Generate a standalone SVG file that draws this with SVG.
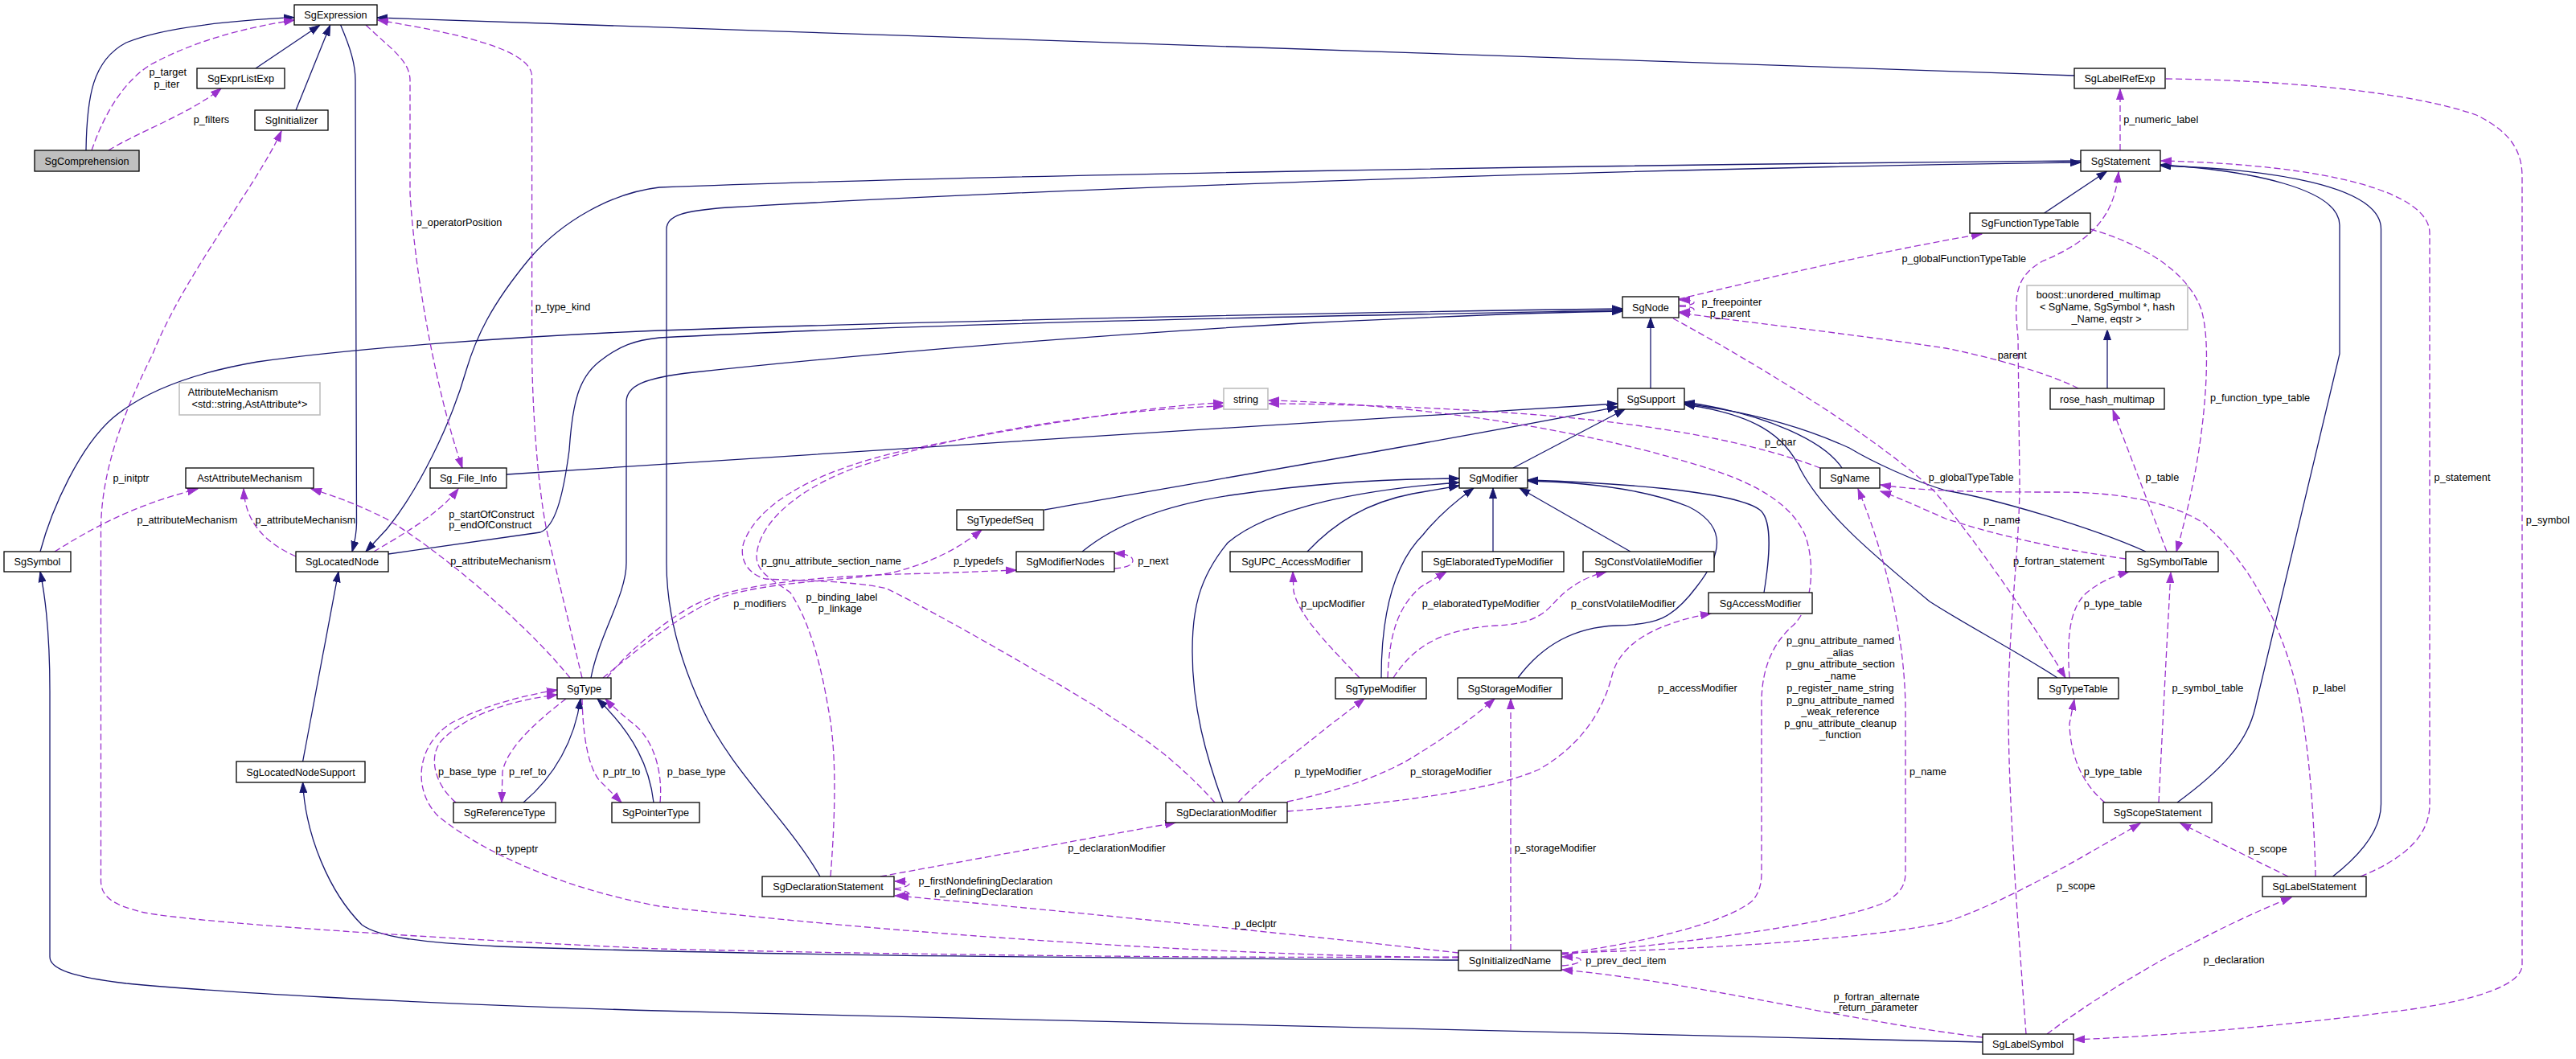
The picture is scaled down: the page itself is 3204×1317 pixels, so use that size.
<svg xmlns="http://www.w3.org/2000/svg" width="3204" height="1317" viewBox="0 0 3204 1317">
<style>
text{font-family:"Liberation Sans",Arial,Helvetica,sans-serif;font-size:12.7px;fill:#000}
.n text{text-anchor:middle}
.n rect{fill:#fff;stroke:#000;stroke-width:1.3}
.n rect.g{stroke:#bfbfbf;stroke-width:1.6}
.n rect.sel{fill:#bfbfbf}
.inh{fill:none;stroke:#191970;stroke-width:1.3;marker-end:url(#ai)}
.use{fill:none;stroke:#9a32cd;stroke-width:1.3;stroke-dasharray:8,4;marker-end:url(#au)}
.lbl text{text-anchor:middle}
</style>
<defs>
<marker id="ai" markerWidth="14" markerHeight="10" refX="13" refY="5" orient="auto" markerUnits="userSpaceOnUse"><path d="M0,0.5 L13,5 L0,9.5 z" fill="#191970" stroke="#191970"/></marker>
<marker id="au" markerWidth="14" markerHeight="10" refX="13" refY="5" orient="auto" markerUnits="userSpaceOnUse"><path d="M0,0.5 L13,5 L0,9.5 z" fill="#9a32cd" stroke="#9a32cd"/></marker>
</defs>
<rect width="3204" height="1317" fill="#fff"/>
<g id="connectors">
<!-- inheritance -->
<path class="inh" d="M107,187 C108,120 115,75 157,53 C200,35 280,26 366,21.7"/>
<path class="inh" d="M318,85 L397.5,31.5"/>
<path class="inh" d="M368,137 L410.6,31.5"/>
<path class="inh" d="M2580,94 C1900,70 900,37 469,22"/>
<path class="inh" d="M423.6,31 C436,60 442,80 442,100 L443.5,650 C443.5,665 441,675 438,686"/>
<path class="inh" d="M2588,200 C2000,205 1200,218 820,233 C760,240 700,275 660,320 C610,380 592,420 580,460 C560,530 520,610 481,658 L455,686"/>
<path class="inh" d="M1020,1090 C980,1020 910,960 873,880 C845,820 829,760 829,700 L829,285 C829,268 850,262 905,258 C1300,235 2000,210 2588,202"/>
<path class="inh" d="M2542.6,265 L2620.5,213"/>
<path class="inh" d="M2708,998 C2760,960 2795,925 2805,880 L2910,440 L2910,280 C2910,235 2800,212 2687,205"/>
<path class="inh" d="M2901.5,1090 C2940,1060 2961.5,1030 2961.5,1000 L2961.5,285 C2961.5,230 2820,210 2687,206"/>
<path class="inh" d="M376.6,947 L421,711"/>
<path class="inh" d="M1814,1194 C1500,1192 1000,1190 620,1177 C520,1172 470,1165 450,1150 C410,1110 380,1040 376.6,973"/>
<path class="inh" d="M2466,1296 C2200,1292 1500,1275 820,1257 C500,1248 250,1232 157,1223 C90,1215 62,1205 62,1190 L62,860 C62,800 58,750 50,711"/>
<path class="inh" d="M50,686 C65,630 100,555 140,520 C185,482 250,462 320,450 C450,432 650,418 820,411 C1200,398 1700,388 2018,384"/>
<path class="inh" d="M483,689 L672,662 C690,655 700,620 708,560 C712,500 720,470 745,450 C770,430 790,423 820,420 C1200,400 1700,392 2018,386"/>
<path class="inh" d="M735,843 C745,790 779,740 779,700 L779,500 C779,480 800,470 863,463 C1000,448 1300,420 1620,402 C1800,393 1950,388 2018,387"/>
<path class="inh" d="M2053,483 L2053,395"/>
<path class="inh" d="M2621,483 L2621,410"/>
<path class="inh" d="M2291,582 C2270,550 2200,515 2095,500"/>
<path class="inh" d="M2669,686 C2600,655 2480,620 2420,610 C2380,598 2330,575 2300,557 C2230,525 2160,510 2095,502"/>
<path class="inh" d="M2559,843 C2500,805 2450,780 2400,748 C2330,690 2270,640 2240,585 C2220,540 2180,515 2095,503"/>
<path class="inh" d="M1299,634 C1500,598 1800,548 2012,506"/>
<path class="inh" d="M1346,686 C1390,650 1450,628 1530,616 C1620,603 1700,596 1815,595"/>
<path class="inh" d="M1882,582 L2021,509"/>
<path class="inh" d="M630,590 C1000,565 1600,527 2012,502"/>
<path class="inh" d="M1626,686 C1660,650 1700,625 1757,614 L1815,604"/>
<path class="inh" d="M1857,686 L1857,607"/>
<path class="inh" d="M2028,686 L1890,607"/>
<path class="inh" d="M2194,737 C2200,700 2206,650 2190,635 C2160,610 2000,600 1900,597"/>
<path class="inh" d="M1718,843 C1718,760 1735,700 1770,665 C1790,640 1815,620 1833,607"/>
<path class="inh" d="M1888,843 C1920,800 1960,780 2010,778 C2060,777 2080,770 2110,730 C2150,680 2140,650 2100,630 C2050,610 1980,600 1900,598"/>
<path class="inh" d="M1521,998 C1500,940 1483,880 1483,810 C1483,760 1490,720 1527,675 C1580,630 1700,608 1815,600"/>
<path class="inh" d="M813,998 C808,955 790,915 743,869"/>
<path class="inh" d="M651,998 C690,965 715,920 722,869"/>
<!-- usage -->
<path class="use" d="M114,187 C130,140 155,100 188,80 C240,52 300,35 366,25"/>
<path class="use" d="M135,187 C170,165 235,142 275,110"/>
<path class="use" d="M1814,1190 C1500,1192 1100,1187 820,1180 C550,1168 250,1148 180,1135 C135,1125 125.5,1112 125.5,1095 L125.5,660 C125.5,590 150,520 190,440 C230,340 320,230 350,163"/>
<path class="use" d="M465,686 C500,665 545,640 570,608"/>
<path class="use" d="M455,31 C485,60 510,75 510,100 L510,240 C515,330 540,480 575,582"/>
<path class="use" d="M724,843 L680,660 C668,600 661.6,500 661.6,430 L661.6,95 C661.6,60 560,40 470,25"/>
<path class="use" d="M68,686 C110,660 160,630 246,608"/>
<path class="use" d="M368,692 C330,675 305,650 303,608"/>
<path class="use" d="M709,843 C650,770 540,680 480,645 C440,625 410,615 387,608"/>
<path class="use" d="M1511,998 C1450,930 1400,905 1365,880 C1300,840 1170,765 1103,732 C1060,722 990,722 952,720 C925,712 920,690 925,675 C945,620 1030,580 1140,557 C1300,525 1450,503 1522,501"/>
<path class="use" d="M1033,1090 C1040,1000 1040,930 1030,880 C1020,820 1005,770 983,737 C960,720 940,712 941,690 C945,650 990,610 1060,583 C1200,535 1400,508 1522,505"/>
<path class="use" d="M750,843 C790,810 850,760 900,742 C960,722 1060,722 1110,712 C1160,700 1195,680 1221,659"/>
<path class="use" d="M755,843 C780,810 840,760 880,745 C940,722 1050,715 1160,713 L1264,709"/>
<path class="use" d="M1386,707 C1400,706 1409,703 1409,697 C1409,692 1402,689 1386,688"/>
<path class="use" d="M1691,843 C1650,800 1615,765 1609,735 L1608,711"/>
<path class="use" d="M1726,843 C1728,790 1738,755 1767,730 L1799,711"/>
<path class="use" d="M1733,843 C1760,800 1800,782 1860,778 C1900,776 1915,768 1930,753 C1950,730 1970,718 1998,711"/>
<path class="use" d="M1601,1009 C1720,1000 1850,985 1914,957 C1970,925 1995,880 2005,840 C2015,800 2060,775 2128,763"/>
<path class="use" d="M1540,998 C1570,965 1620,930 1650,905 L1697,869"/>
<path class="use" d="M1601,997 C1660,985 1720,965 1760,940 C1800,915 1830,895 1859,869"/>
<path class="use" d="M1879,1182 L1879,869"/>
<path class="use" d="M1095,1090 L1462,1023"/>
<path class="use" d="M1113,1105 C1125,1104 1131,1101 1131,1099 C1131,1097 1125,1096 1113,1096"/>
<path class="use" d="M1113,1106 C1125,1107 1131,1110 1131,1112 C1131,1113 1125,1114 1113,1114"/>
<path class="use" d="M1814,1185 C1700,1172 1500,1150 1117,1114"/>
<path class="use" d="M1814,1191 C1500,1188 1100,1160 820,1127 C700,1105 600,1060 545,1015 C515,985 515,930 560,900 C600,878 650,865 693,858"/>
<path class="use" d="M567,998 C540,975 532,940 550,920 C580,890 630,872 693,864"/>
<path class="use" d="M704,869 C670,895 630,930 625,960 L624,998"/>
<path class="use" d="M724,869 C725,910 730,950 745,970 L773,998"/>
<path class="use" d="M821,998 C825,955 810,915 785,898 C770,885 760,877 753,869"/>
<path class="use" d="M1943,1201 C1958,1200 1966,1197 1966,1194 C1966,1191 1958,1190 1943,1190"/>
<path class="use" d="M1943,1186 C2060,1170 2150,1145 2180,1120 C2188,1110 2191,1100 2191,1085 L2191,870 C2192,830 2205,800 2230,778 C2255,755 2258,700 2245,665 C2225,620 2170,595 2100,575 C1950,530 1750,502 1578,498"/>
<path class="use" d="M2264,582 C2180,550 2060,527 1900,515 C1780,506 1650,502 1578,502"/>
<path class="use" d="M1943,1187 C2100,1172 2280,1150 2345,1122 C2365,1110 2370,1100 2370,1085 L2370,880 C2369,790 2345,690 2311,608"/>
<path class="use" d="M2644,695 C2560,683 2480,665 2420,645 C2390,632 2360,618 2339,611"/>
<path class="use" d="M2880,1090 C2878,1000 2870,920 2860,870 C2840,780 2800,700 2740,650 C2700,625 2640,612 2560,612 C2480,612 2400,612 2339,603"/>
<path class="use" d="M2081,396 C2180,450 2330,540 2405,610 C2440,650 2520,760 2569,843"/>
<path class="use" d="M2585,483 C2550,465 2480,445 2420,433 C2300,415 2150,398 2089,389"/>
<path class="use" d="M2088,372 C2200,345 2350,310 2465,291"/>
<path class="use" d="M2089,380 C2101,380 2107,378 2107,376 C2107,374 2101,373 2089,373"/>
<path class="use" d="M2089,381 C2101,381 2107,383 2107,385 C2107,387 2101,388 2089,388"/>
<path class="use" d="M2695,686 L2628,510"/>
<path class="use" d="M2600,285 C2660,302 2720,335 2738,385 C2745,410 2745,440 2744,470 C2740,560 2720,640 2707,686"/>
<path class="use" d="M2936,1090 C2990,1068 3022,1040 3022,1000 L3022,290 C3022,240 2900,205 2688,200"/>
<path class="use" d="M2694,98 C2850,100 3000,115 3080,143 C3125,165 3137,190 3137,220 L3137,1200 C3137,1220 3100,1240 3000,1255 C2850,1275 2700,1288 2580,1293"/>
<path class="use" d="M2637,187 L2637,111"/>
<path class="use" d="M2520,1286 C2510,1150 2498,1000 2498,880 C2498,780 2512,680 2512,600 L2510,420 C2505,370 2505,345 2540,325 C2600,300 2630,270 2635,214"/>
<path class="use" d="M2574,843 C2570,790 2575,752 2598,735 C2615,722 2630,716 2648,711"/>
<path class="use" d="M2685,998 C2690,900 2695,800 2700,712"/>
<path class="use" d="M2618,998 C2590,975 2575,940 2574,900 L2580,870"/>
<path class="use" d="M2846,1090 L2712,1024"/>
<path class="use" d="M1943,1185 C2150,1180 2330,1166 2420,1147 C2500,1120 2600,1060 2662,1024"/>
<path class="use" d="M2546,1286 C2620,1230 2740,1160 2850,1116"/>
<path class="use" d="M2466,1290 C2300,1270 2100,1220 1943,1206"/>
<g class="lbl">
<text x="208.7" y="94">p_target</text><text x="207.3" y="108.5">p_iter</text>
<text x="263" y="153">p_filters</text>
<text x="571" y="281">p_operatorPosition</text>
<text x="700" y="386">p_type_kind</text>
<text x="163" y="598.5">p_initptr</text>
<text x="232.8" y="650.5">p_attributeMechanism</text>
<text x="380" y="650.5">p_attributeMechanism</text>
<text x="611.4" y="643.5">p_startOfConstruct</text><text x="609.8" y="657">p_endOfConstruct</text>
<text x="622.6" y="702">p_attributeMechanism</text>
<text x="1033.8" y="702">p_gnu_attribute_section_name</text>
<text x="1217" y="702">p_typedefs</text>
<text x="945" y="754.5">p_modifiers</text>
<text x="1047" y="747">p_binding_label</text><text x="1045" y="761">p_linkage</text>
<text x="1434.4" y="702">p_next</text>
<text x="2214.5" y="553.5">p_char</text>
<text x="1657.8" y="754.5">p_upcModifier</text>
<text x="1842" y="754.5">p_elaboratedTypeModifier</text>
<text x="2019" y="754.5">p_constVolatileModifier</text>
<text x="2111.4" y="859.5">p_accessModifier</text>
<text x="2289" y="801">p_gnu_attribute_named</text>
<text x="2289" y="815.5">_alias</text>
<text x="2289" y="830">p_gnu_attribute_section</text>
<text x="2289" y="844.5">_name</text>
<text x="2289" y="859.5">p_register_name_string</text>
<text x="2289" y="874.5">p_gnu_attribute_named</text>
<text x="2289" y="889">_weak_reference</text>
<text x="2289" y="903.5">p_gnu_attribute_cleanup</text>
<text x="2289" y="918">_function</text>
<text x="2502.7" y="446">parent</text>
<text x="2811" y="499">p_function_type_table</text>
<text x="2689.4" y="598">p_table</text>
<text x="3062.5" y="598">p_statement</text>
<text x="2451.6" y="598">p_globalTypeTable</text>
<text x="2490" y="650.5">p_name</text>
<text x="3169" y="650.5">p_symbol</text>
<text x="2560.8" y="702">p_fortran_statement</text>
<text x="2628" y="754.5">p_type_table</text>
<text x="2746" y="859.5">p_symbol_table</text>
<text x="2897" y="859.5">p_label</text>
<text x="2687.7" y="153">p_numeric_label</text>
<text x="2442.8" y="326">p_globalFunctionTypeTable</text>
<text x="2153.8" y="379.5">p_freepointer</text><text x="2151.8" y="393.5">p_parent</text>
<text x="581.3" y="963.5">p_base_type</text>
<text x="656.4" y="963.5">p_ref_to</text>
<text x="773" y="963.5">p_ptr_to</text>
<text x="642.7" y="1059.5">p_typeptr</text>
<text x="866.2" y="963.5">p_base_type</text>
<text x="1389" y="1059">p_declarationModifier</text>
<text x="1225.8" y="1099.5">p_firstNondefiningDeclaration</text><text x="1223.4" y="1113">p_definingDeclaration</text>
<text x="1561.7" y="1153">p_declptr</text>
<text x="1651.8" y="963.5">p_typeModifier</text>
<text x="1804.8" y="963.5">p_storageModifier</text>
<text x="1934.5" y="1059">p_storageModifier</text>
<text x="2398" y="963.5">p_name</text>
<text x="2022.3" y="1198.5">p_prev_decl_item</text>
<text x="2334" y="1243.5">p_fortran_alternate</text><text x="2332.7" y="1257">_return_parameter</text>
<text x="2628" y="963.5">p_type_table</text>
<text x="2820.5" y="1059.5">p_scope</text>
<text x="2582" y="1106">p_scope</text>
<text x="2778.5" y="1198">p_declaration</text>
</g>
</g>
<g id="nodes">
<g id="SgComprehension" class="n"><rect class="sel" x="43" y="187" width="130" height="26"/><text x="108" y="204.5">SgComprehension</text></g>
<g id="SgExpression" class="n"><rect x="366" y="6" width="103" height="25"/><text x="417.5" y="23">SgExpression</text></g>
<g id="SgExprListExp" class="n"><rect x="245" y="85" width="109" height="25"/><text x="299.5" y="102">SgExprListExp</text></g>
<g id="SgInitializer" class="n"><rect x="317" y="137" width="91" height="25"/><text x="362.5" y="154">SgInitializer</text></g>
<g id="SgLabelRefExp" class="n"><rect x="2580" y="85" width="113" height="25"/><text x="2636.5" y="102">SgLabelRefExp</text></g>
<g id="SgStatement" class="n"><rect x="2588" y="187" width="99" height="26"/><text x="2637.5" y="204.5">SgStatement</text></g>
<g id="SgFunctionTypeTable" class="n"><rect x="2450" y="265" width="150" height="25"/><text x="2525" y="282">SgFunctionTypeTable</text></g>
<g id="SgNode" class="n"><rect x="2018" y="369" width="70" height="26"/><text x="2053" y="386.5">SgNode</text></g>
<g id="boost_unordered_multimap" class="n"><rect class="g" x="2521" y="355" width="200" height="55"/><text x="2532.8" y="371" style="text-anchor:start">boost::unordered_multimap</text><text x="2621" y="386">&lt; SgName, SgSymbol *, hash</text><text x="2620" y="401">_Name, eqstr &gt;</text></g>
<g id="AttributeMechanism" class="n"><rect class="g" x="223" y="476" width="175" height="40"/><text x="233.8" y="492" style="text-anchor:start">AttributeMechanism</text><text x="310.5" y="507">&lt;std::string,AstAttribute*&gt;</text></g>
<g id="string" class="n"><rect class="g" x="1522" y="483" width="55" height="26"/><text x="1549.5" y="500.5">string</text></g>
<g id="SgSupport" class="n"><rect x="2012" y="483" width="83" height="26"/><text x="2053.5" y="500.5">SgSupport</text></g>
<g id="rose_hash_multimap" class="n"><rect x="2550" y="483" width="142" height="26"/><text x="2621" y="500.5">rose_hash_multimap</text></g>
<g id="AstAttributeMechanism" class="n"><rect x="231" y="582" width="159" height="25"/><text x="310.5" y="599">AstAttributeMechanism</text></g>
<g id="Sg_File_Info" class="n"><rect x="535" y="582" width="95" height="25"/><text x="582.5" y="599">Sg_File_Info</text></g>
<g id="SgModifier" class="n"><rect x="1815" y="582" width="85" height="25"/><text x="1857.5" y="599">SgModifier</text></g>
<g id="SgName" class="n"><rect x="2264" y="582" width="74" height="25"/><text x="2301" y="599">SgName</text></g>
<g id="SgTypedefSeq" class="n"><rect x="1190" y="634" width="108" height="25"/><text x="1244" y="651">SgTypedefSeq</text></g>
<g id="SgSymbol" class="n"><rect x="5" y="686" width="83" height="25"/><text x="46.5" y="703">SgSymbol</text></g>
<g id="SgLocatedNode" class="n"><rect x="368" y="686" width="115" height="25"/><text x="425.5" y="703">SgLocatedNode</text></g>
<g id="SgModifierNodes" class="n"><rect x="1264" y="686" width="122" height="25"/><text x="1325" y="703">SgModifierNodes</text></g>
<g id="SgUPC_AccessModifier" class="n"><rect x="1530" y="686" width="164" height="25"/><text x="1612" y="703">SgUPC_AccessModifier</text></g>
<g id="SgElaboratedTypeModifier" class="n"><rect x="1769" y="686" width="176" height="25"/><text x="1857" y="703">SgElaboratedTypeModifier</text></g>
<g id="SgConstVolatileModifier" class="n"><rect x="1969" y="686" width="163" height="25"/><text x="2050.5" y="703">SgConstVolatileModifier</text></g>
<g id="SgSymbolTable" class="n"><rect x="2644" y="686" width="115" height="25"/><text x="2701.5" y="703">SgSymbolTable</text></g>
<g id="SgAccessModifier" class="n"><rect x="2125" y="737" width="129" height="26"/><text x="2189.5" y="754.5">SgAccessModifier</text></g>
<g id="SgType" class="n"><rect x="693" y="843" width="67" height="26"/><text x="726.5" y="860.5">SgType</text></g>
<g id="SgTypeModifier" class="n"><rect x="1661" y="843" width="113" height="26"/><text x="1717.5" y="860.5">SgTypeModifier</text></g>
<g id="SgStorageModifier" class="n"><rect x="1813" y="843" width="130" height="26"/><text x="1878" y="860.5">SgStorageModifier</text></g>
<g id="SgTypeTable" class="n"><rect x="2535" y="843" width="100" height="26"/><text x="2585" y="860.5">SgTypeTable</text></g>
<g id="SgLocatedNodeSupport" class="n"><rect x="294" y="947" width="160" height="26"/><text x="374" y="964.5">SgLocatedNodeSupport</text></g>
<g id="SgReferenceType" class="n"><rect x="564" y="998" width="127" height="25"/><text x="627.5" y="1015">SgReferenceType</text></g>
<g id="SgPointerType" class="n"><rect x="761" y="998" width="109" height="25"/><text x="815.5" y="1015">SgPointerType</text></g>
<g id="SgDeclarationModifier" class="n"><rect x="1450" y="998" width="151" height="25"/><text x="1525.5" y="1015">SgDeclarationModifier</text></g>
<g id="SgScopeStatement" class="n"><rect x="2616" y="998" width="135" height="25"/><text x="2683.5" y="1015">SgScopeStatement</text></g>
<g id="SgDeclarationStatement" class="n"><rect x="948" y="1090" width="164" height="25"/><text x="1030" y="1107">SgDeclarationStatement</text></g>
<g id="SgLabelStatement" class="n"><rect x="2814" y="1090" width="129" height="25"/><text x="2878.5" y="1107">SgLabelStatement</text></g>
<g id="SgInitializedName" class="n"><rect x="1814" y="1182" width="128" height="25"/><text x="1878" y="1199">SgInitializedName</text></g>
<g id="SgLabelSymbol" class="n"><rect x="2466" y="1286" width="113" height="25"/><text x="2522.5" y="1303">SgLabelSymbol</text></g>
</g>
</svg>
